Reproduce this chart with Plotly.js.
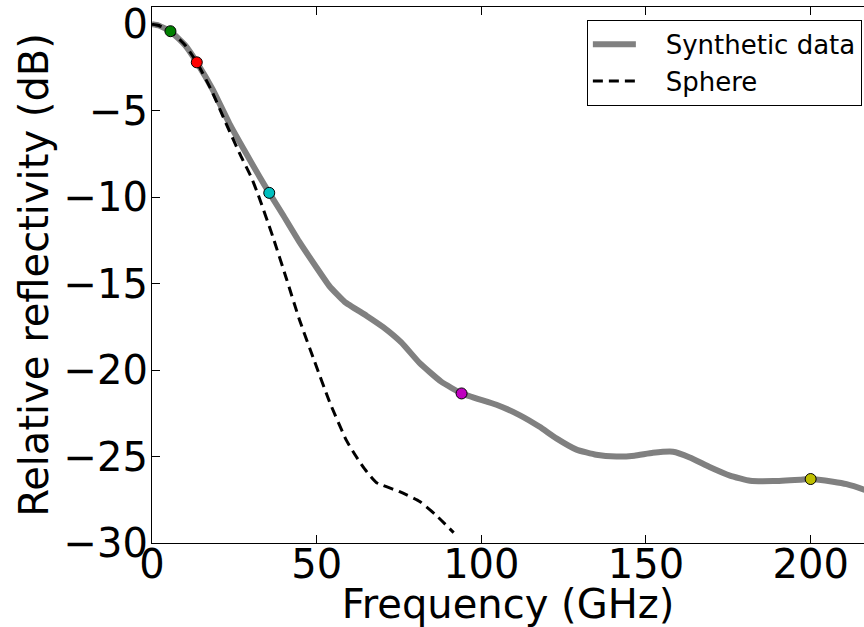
<!DOCTYPE html>
<html>
<head>
<meta charset="utf-8">
<script src="https://cdn.plot.ly/plotly-3.0.1.min.js"></script>
<style>html,body{margin:0;padding:0;background:#fff;}#chart{width:864px;height:627px;}</style>
</head>
<body>
<div id="chart"></div>
<script>
// Synthetic data (grey solid line)
const synthFreq = [0, 2, 5.6, 10, 13.6, 18.5, 23.5, 28.6, 32.7, 35.6, 39.7, 44.8, 49.9, 53.9, 58.5, 65.1, 70.1, 75.7, 81.3, 87.8, 94, 104.6, 111.6, 117.7, 122.8, 128.9, 134.9, 141.0, 146.5, 152.1, 158.2, 163.3, 169.3, 175.5, 181.6, 188.6, 196.8, 200, 206.8, 210.9, 216, 220];
const synthDb = [0, -0.07, -0.4, -1.2, -2.2, -3.8, -5.74, -7.47, -8.83, -9.75, -11.0, -12.6, -14.05, -15.15, -16.05, -16.85, -17.5, -18.4, -19.6, -20.67, -21.35, -22.0, -22.6, -23.28, -23.95, -24.6, -24.9, -25.0, -24.95, -24.78, -24.72, -25.05, -25.6, -26.1, -26.4, -26.42, -26.34, -26.3, -26.46, -26.6, -26.9, -27.2];

// Sphere (black dashed line)
const sphereFreq = [0, 2, 5.6, 10, 13.6, 18, 22.5, 26.6, 30.1, 32.1, 36.7, 40.8, 44.8, 49.4, 53.9, 59.0, 62, 64.5, 68.1, 75.2, 81.3, 86.3, 91.6];
const sphereDb = [0, -0.07, -0.4, -1.2, -2.2, -3.8, -5.74, -7.47, -8.83, -9.79, -12.29, -14.7, -17.1, -19.52, -21.83, -24.05, -25.0, -25.7, -26.5, -27.03, -27.6, -28.4, -29.4];

// Highlighted frequencies
const markFreq = [5.6, 13.6, 35.6, 94, 200];
const markDb = [-0.4, -2.2, -9.75, -21.35, -26.3];
const markColors = ['#008000', '#ff0000', '#00bfbf', '#bf00bf', '#bfbf00'];

// Axis ticks
const xTicks = [0, 50, 100, 150, 200];
const yTicks = [-30, -25, -20, -15, -10, -5, 0];

const pad = '\u00a0\u00a0\u00a0';
const traces = [
  {x: synthFreq, y: synthDb, mode: 'lines', name: pad + 'Synthetic data',
   line: {color: '#808080', width: 6, shape: 'spline', smoothing: 0.4}},
  {x: sphereFreq, y: sphereDb, mode: 'lines', name: pad + 'Sphere',
   line: {color: '#000000', width: 3, dash: '10px,6px', shape: 'spline', smoothing: 0.5}}
];
markFreq.forEach((f, i) => {
  traces.push({x: [f], y: [markDb[i]], mode: 'markers', showlegend: false,
    marker: {color: markColors[i], size: 11, line: {color: '#000', width: 1}}});
});

const fontFam = 'DejaVu Sans, sans-serif';
const layout = {
  width: 864, height: 627,
  margin: {l: 152, r: 0, t: 7, b: 84, pad: 0},
  paper_bgcolor: '#fff', plot_bgcolor: '#fff',
  font: {family: fontFam, color: '#000', size: 40},
  showlegend: true,
  xaxis: {
    range: [0, 216.2], tickvals: xTicks, ticktext: xTicks.map(String),
    ticks: 'inside', ticklen: 8, tickwidth: 1, tickcolor: '#000',
    showline: true, linecolor: '#000', linewidth: 1, mirror: 'ticks',
    showgrid: false, zeroline: false, automargin: false,
    ticklabelstandoff: -14,
    tickfont: {family: fontFam, size: 40, color: '#000'},
    title: {text: 'Frequency (GHz)', font: {family: fontFam, size: 40, color: '#000'}, standoff: 12}
  },
  yaxis: {
    range: [-30, 1], tickvals: yTicks, ticktext: yTicks.map(v => v < 0 ? '\u2212' + Math.abs(v) : String(v)),
    ticks: 'inside', ticklen: 8, tickwidth: 1, tickcolor: '#000',
    showline: true, linecolor: '#000', linewidth: 1, mirror: false,
    showgrid: false, zeroline: false, automargin: false,
    ticklabelstandoff: -5,
    tickfont: {family: fontFam, size: 40, color: '#000'},
    title: {text: 'Relative reflectivity (dB)', font: {family: fontFam, size: 40, color: '#000'}, standoff: 2}
  },
  legend: {
    x: 0.997, y: 0.976, xanchor: 'right', yanchor: 'top',
    bordercolor: '#000', borderwidth: 1, bgcolor: '#fff',
    font: {family: fontFam, size: 26, color: '#000'},
    itemwidth: 43
  }
};

Plotly.newPlot('chart', traces, layout, {displayModeBar: false, staticPlot: true});
</script>
</body>
</html>
